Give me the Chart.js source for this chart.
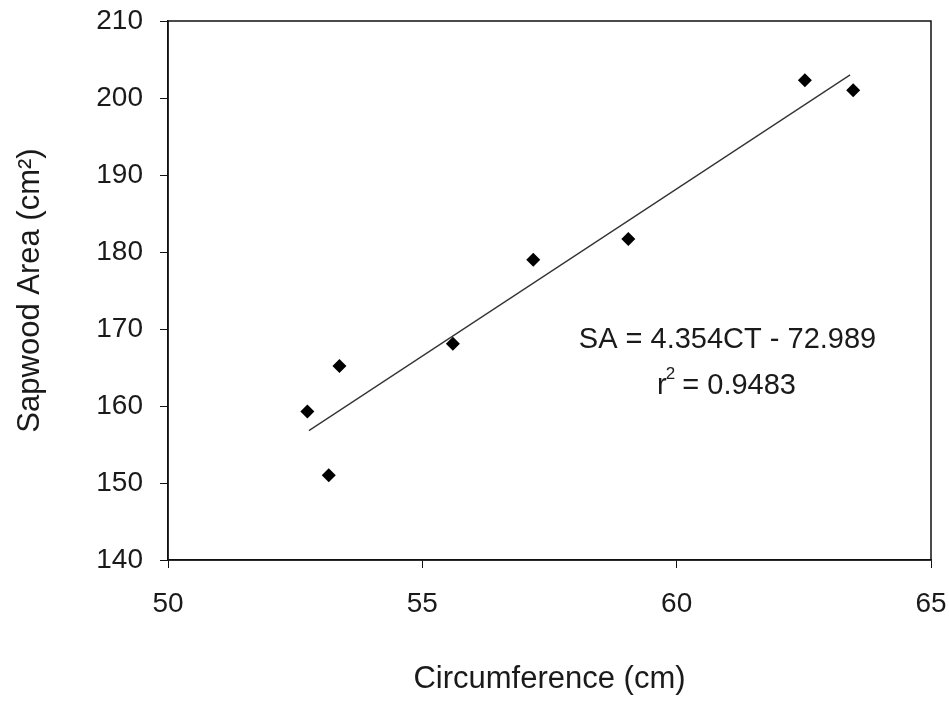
<!DOCTYPE html>
<html>
<head>
<meta charset="utf-8">
<script src="https://cdn.jsdelivr.net/npm/chart.js@4/dist/chart.umd.min.js"></script>
<style>
  html, body { margin: 0; padding: 0; background: #fff; }
  #wrap { width: 949px; height: 706px; }
</style>
</head>
<body>
<div id="wrap"><canvas id="chart" width="949" height="706"></canvas></div>
<script>
// valores
const circumference = [52.74, 53.16, 53.37, 55.60, 57.18, 59.05, 62.52, 63.47];
const sapwoodArea   = [159.3, 151.0, 165.2, 168.1, 179.0, 181.7, 202.3, 201.0];
// extremos da reta de regressão
const fitX = [52.77, 63.41];
const fitY = [156.8, 203.0];
const xTicks = [50, 55, 60, 65];
const yTicks = [140, 150, 160, 170, 180, 190, 200, 210];
const equationText = 'SA = 4.354CT - 72.989';
const r2Text = '0.9483';

const FONT = '"Liberation Sans", Arial, sans-serif';
const TEXT = '#1a1a1a';

const framePlugin = {
    id: 'frame',
    afterDraw(chart) {
        const { ctx, chartArea: a, scales } = chart;
        ctx.save();
        ctx.strokeStyle = '#111';
        ctx.lineWidth = 1.5;
        ctx.strokeRect(a.left, a.top, a.right - a.left, a.bottom - a.top);

        // texto da equação
        ctx.fillStyle = TEXT;
        ctx.font = '29px ' + FONT;
        ctx.textAlign = 'center';
        ctx.textBaseline = 'middle';
        const cx = scales.x.getPixelForValue(61.0);
        ctx.fillText(equationText, cx, scales.y.getPixelForValue(168.6));

        // r² com expoente
        const y2 = scales.y.getPixelForValue(162.6);
        const rest = ' = ' + r2Text;
        const wr = ctx.measureText('r').width;
        ctx.font = '17px ' + FONT;
        const w2 = ctx.measureText('2').width;
        ctx.font = '29px ' + FONT;
        const wRest = ctx.measureText(rest).width;
        let x0 = cx - (wr + w2 + wRest) / 2;
        ctx.textAlign = 'left';
        ctx.fillText('r', x0, y2);
        ctx.font = '17px ' + FONT;
        ctx.fillText('2', x0 + wr - 1, y2 - 12);
        ctx.font = '29px ' + FONT;
        ctx.fillText(rest, x0 + wr + w2 - 2, y2);
        ctx.restore();
    }
};

const ctx = document.getElementById('chart').getContext('2d');
new Chart(ctx, {
    type: 'scatter',
    data: {
        datasets: [
            {
                label: 'Dados',
                data: circumference.map((c, i) => ({ x: c, y: sapwoodArea[i] })),
                pointStyle: 'rectRot',
                pointRadius: 7,
                backgroundColor: '#000',
                borderColor: '#000',
                borderWidth: 0
            },
            {
                label: 'Regressão',
                type: 'line',
                data: fitX.map((c, i) => ({ x: c, y: fitY[i] })),
                borderColor: '#333',
                borderWidth: 1.3,
                pointRadius: 0,
                fill: false
            }
        ]
    },
    options: {
        responsive: false,
        animation: false,
        layout: { padding: { left: 0, top: 21, right: 18, bottom: 0 } },
        plugins: {
            legend: { display: false },
            tooltip: { enabled: false }
        },
        scales: {
            x: {
                type: 'linear',
                min: 50,
                max: 65,
                afterBuildTicks: s => { s.ticks = xTicks.map(v => ({ value: v })); },
                afterFit: s => { s.height = 146; s.paddingLeft = 0; s.paddingRight = 0; },
                grid: { display: true, drawOnChartArea: false, tickLength: 8, color: '#111' },
                border: { display: true, color: '#111', width: 1.5 },
                ticks: { color: TEXT, font: { family: FONT, size: 28 }, padding: 19 },
                title: {
                    display: true,
                    text: 'Circumference (cm)',
                    color: TEXT,
                    font: { family: FONT, size: 31 },
                    padding: { top: 8, bottom: 8 }
                }
            },
            y: {
                type: 'linear',
                min: 140,
                max: 210,
                afterBuildTicks: s => { s.ticks = yTicks.map(v => ({ value: v })); },
                afterFit: s => { s.width = 168; s.paddingTop = 0; s.paddingBottom = 0; },
                grid: { display: true, drawOnChartArea: false, tickLength: 8, color: '#111' },
                border: { display: true, color: '#111', width: 1.5 },
                ticks: { color: TEXT, font: { family: FONT, size: 28 }, padding: 17 },
                title: {
                    display: true,
                    text: 'Sapwood Area (cm²)',
                    color: TEXT,
                    font: { family: FONT, size: 31 },
                    padding: { top: 12, bottom: 12 }
                }
            }
        }
    },
    plugins: [framePlugin]
});
</script>
</body>
</html>
